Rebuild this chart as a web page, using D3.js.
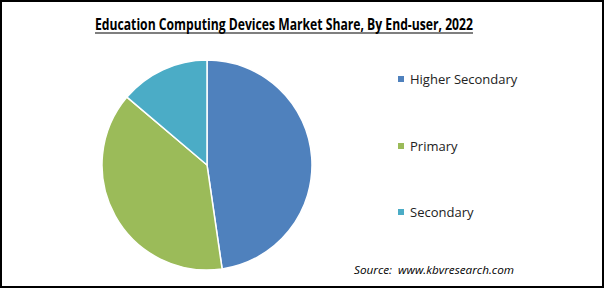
<!DOCTYPE html>
<html>
<head>
<meta charset="utf-8">
<script src="https://cdn.jsdelivr.net/npm/d3@7"></script>
<style>
  body { margin: 0; background: #fff; }
  svg { display: block; font-family: "Open Sans", "Noto Sans", sans-serif; }
</style>
</head>
<body>
<div id="graphic"></div>
<script>
const WIDTH = 605;
const HEIGHT = 289;
const CATEGORIES = ["Higher Secondary", "Primary", "Secondary"];
const SHARES = [47.7, 38.5, 13.8];
const COLORS = ["#4f81bd", "#9bbb59", "#4bacc6"];
const TITLE = "Education Computing Devices Market Share, By End-user, 2022";
const SOURCE = "Source:\u00a0 www.kbvresearch.com";

const CX = 207;
const CY = 165;
const RADIUS = 105;
const LEGEND_X = 398;
const LEGEND_Y = [79, 146, 212];

var data = CATEGORIES.map((c, i) => ({ name: c, value: SHARES[i] }));

var svg = d3.select("#graphic")
  .append("svg")
  .attr("width", WIDTH)
  .attr("height", HEIGHT);

svg.append("rect")
  .attr("x", 1)
  .attr("y", 1)
  .attr("width", WIDTH - 3)
  .attr("height", HEIGHT - 3)
  .attr("fill", "#fff")
  .attr("stroke", "#000")
  .attr("stroke-width", 2);

// title, underlined
svg.append("text")
  .attr("x", 95)
  .attr("y", 30)
  .attr("font-size", 16.5)
  .attr("font-weight", "bold")
  .attr("textLength", 378)
  .attr("lengthAdjust", "spacingAndGlyphs")
  .attr("fill", "#000")
  .text(TITLE);

svg.append("line")
  .attr("x1", 95)
  .attr("x2", 473)
  .attr("y1", 33)
  .attr("y2", 33)
  .attr("stroke", "#000")
  .attr("stroke-width", 1.2);

var color = d3.scaleOrdinal()
  .domain(CATEGORIES)
  .range(COLORS);

var pie = d3.pie()
  .sort(null)
  .value(d => d.value);

var arc = d3.arc()
  .innerRadius(0)
  .outerRadius(RADIUS);

svg.append("g")
  .attr("transform", `translate(${CX}, ${CY})`)
  .selectAll("path")
  .data(pie(data))
  .enter()
  .append("path")
  .attr("d", arc)
  .attr("fill", d => color(d.data.name))
  .attr("stroke", "#fff")
  .attr("stroke-width", 1.5);

var legend = svg.append("g")
  .selectAll("g")
  .data(data)
  .enter()
  .append("g")
  .attr("transform", (d, i) => `translate(${LEGEND_X}, ${LEGEND_Y[i]})`);

legend.append("rect")
  .attr("x", 0)
  .attr("y", -3)
  .attr("width", 6)
  .attr("height", 6)
  .attr("fill", d => color(d.name));

legend.append("text")
  .attr("x", 12)
  .attr("y", 5)
  .attr("font-size", 13)
  .attr("fill", "#222")
  .text(d => d.name);

svg.append("text")
  .attr("x", 354)
  .attr("y", 274)
  .attr("font-size", 11.5)
  .attr("font-style", "italic")
  .attr("textLength", 160)
  .attr("lengthAdjust", "spacingAndGlyphs")
  .attr("fill", "#000")
  .text(SOURCE);
</script>
</body>
</html>
